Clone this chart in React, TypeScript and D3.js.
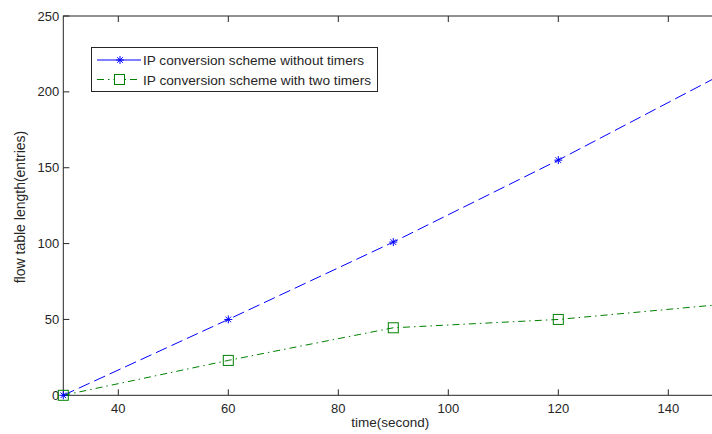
import React, { useEffect, useRef } from "react";
import * as d3 from "d3";

// time axis (seconds) and the two measured series
const times = [30, 60, 90, 120, 150];
const noTimers = [0, 50, 101, 155, 212];
const twoTimers = [0, 23, 44.5, 50, 60];

const xTicks = [40, 60, 80, 100, 120, 140];
const yTicks = [0, 50, 100, 150, 200, 250];

const seriesNames = [
  "IP conversion scheme without timers",
  "IP conversion scheme with two timers",
];

export default function App() {
  const ref = useRef<SVGSVGElement>(null);

  useEffect(() => {
    document.body.style.margin = "0";
    const svg = d3.select(ref.current);
    svg.selectAll("*").remove();

    const font = "'Liberation Sans', Arial, sans-serif";
    const axisColor = "#262626";

    // plot box runs past the right edge, as in the cropped original
    const x = d3.scaleLinear().domain([30, 150]).range([63.3, 723.3]);
    const y = d3.scaleLinear().domain([0, 250]).range([395.3, 16]);

    const [x0, x1] = x.range();
    const [y0, y1] = y.range();

    svg.append("rect")
      .attr("x", 0).attr("y", 0)
      .attr("width", 712).attr("height", 434)
      .attr("fill", "#fff");

    // box
    svg.append("rect")
      .attr("x", x0).attr("y", y1)
      .attr("width", x1 - x0).attr("height", y0 - y1)
      .attr("fill", "none")
      .attr("stroke", axisColor)
      .attr("stroke-width", 1);

    const tickLen = 6;
    const g = svg.append("g").attr("stroke", axisColor).attr("stroke-width", 1);

    xTicks.forEach(t => {
      g.append("line").attr("x1", x(t)).attr("x2", x(t)).attr("y1", y0).attr("y2", y0 - tickLen);
      g.append("line").attr("x1", x(t)).attr("x2", x(t)).attr("y1", y1).attr("y2", y1 + tickLen);
    });
    yTicks.forEach(t => {
      g.append("line").attr("x1", x0).attr("x2", x0 + tickLen).attr("y1", y(t)).attr("y2", y(t));
      g.append("line").attr("x1", x1).attr("x2", x1 - tickLen).attr("y1", y(t)).attr("y2", y(t));
    });

    svg.selectAll(".xlab")
      .data(xTicks)
      .enter()
      .append("text")
      .attr("x", d => x(d))
      .attr("y", y0 + 17.5)
      .attr("text-anchor", "middle")
      .attr("font-family", font)
      .attr("font-size", 13)
      .attr("fill", axisColor)
      .text(d => d);

    svg.selectAll(".ylab")
      .data(yTicks)
      .enter()
      .append("text")
      .attr("x", x0 - 4)
      .attr("y", d => y(d) + 4.5)
      .attr("text-anchor", "end")
      .attr("font-family", font)
      .attr("font-size", 13)
      .attr("fill", axisColor)
      .text(d => d);

    svg.append("text")
      .attr("x", (x0 + x1) / 2 - 3)
      .attr("y", 427)
      .attr("text-anchor", "middle")
      .attr("font-family", font)
      .attr("font-size", 13.5)
      .attr("fill", axisColor)
      .text("time(second)");

    svg.append("text")
      .attr("transform", "translate(25," + 207 + ") rotate(-90)")
      .attr("text-anchor", "middle")
      .attr("font-family", font)
      .attr("font-size", 14)
      .attr("fill", axisColor)
      .text("flow table length(entries)");

    const line = d3.line<number>()
      .x((d, i) => x(times[i]))
      .y(d => y(d));

    svg.append("path")
      .datum(noTimers)
      .attr("d", line)
      .attr("fill", "none")
      .attr("stroke", "#0000ff")
      .attr("stroke-width", 1)
      .attr("stroke-dasharray", "12,5");

    svg.append("path")
      .datum(twoTimers)
      .attr("d", line)
      .attr("fill", "none")
      .attr("stroke", "#008000")
      .attr("stroke-width", 1)
      .attr("stroke-dasharray", "7,4,1.5,4");

    // asterisk marker
    const star = (sel: any, cx: number, cy: number, r: number) => {
      const s = sel.append("g").attr("stroke", "#0000ff").attr("stroke-width", 1);
      s.append("line").attr("x1", cx - r).attr("x2", cx + r).attr("y1", cy).attr("y2", cy);
      s.append("line").attr("x1", cx).attr("x2", cx).attr("y1", cy - r).attr("y2", cy + r);
      s.append("line").attr("x1", cx - r * 0.7).attr("x2", cx + r * 0.7).attr("y1", cy - r * 0.7).attr("y2", cy + r * 0.7);
      s.append("line").attr("x1", cx - r * 0.7).attr("x2", cx + r * 0.7).attr("y1", cy + r * 0.7).attr("y2", cy - r * 0.7);
    };
    const square = (sel: any, cx: number, cy: number, r: number) => {
      sel.append("rect")
        .attr("x", cx - r).attr("y", cy - r)
        .attr("width", 2 * r).attr("height", 2 * r)
        .attr("fill", "none")
        .attr("stroke", "#008000")
        .attr("stroke-width", 1);
    };

    times.forEach((t, i) => {
      star(svg, x(t), y(noTimers[i]), 4);
      square(svg, x(t), y(twoTimers[i]), 5);
    });

    // legend
    const lg = svg.append("g");
    lg.append("rect")
      .attr("x", 91.5).attr("y", 47.5)
      .attr("width", 286).attr("height", 44)
      .attr("fill", "#fff")
      .attr("stroke", axisColor)
      .attr("stroke-width", 1);

    const rows = [60, 79.5];
    lg.append("line")
      .attr("x1", 97).attr("x2", 141).attr("y1", rows[0]).attr("y2", rows[0])
      .attr("stroke", "#0000ff");
    star(lg, 120, rows[0], 4);
    lg.append("line")
      .attr("x1", 97).attr("x2", 141).attr("y1", rows[1]).attr("y2", rows[1])
      .attr("stroke", "#008000")
      .attr("stroke-dasharray", "7,4,1.5,4");
    lg.append("rect")
      .attr("x", 114).attr("y", rows[1] - 5.5)
      .attr("width", 11).attr("height", 11)
      .attr("fill", "#fff");
    square(lg, 119.5, rows[1], 5);

    const textWidths = [221, 228];
    seriesNames.forEach((name, i) => {
      lg.append("text")
        .attr("x", 143)
        .attr("y", rows[i] + 5)
        .attr("font-family", font)
        .attr("font-size", 13.5)
        .attr("textLength", textWidths[i])
        .attr("lengthAdjust", "spacingAndGlyphs")
        .attr("fill", axisColor)
        .text(name);
    });
  }, []);

  return <svg ref={ref} width={712} height={434} style={{ display: "block" }} />;
}
